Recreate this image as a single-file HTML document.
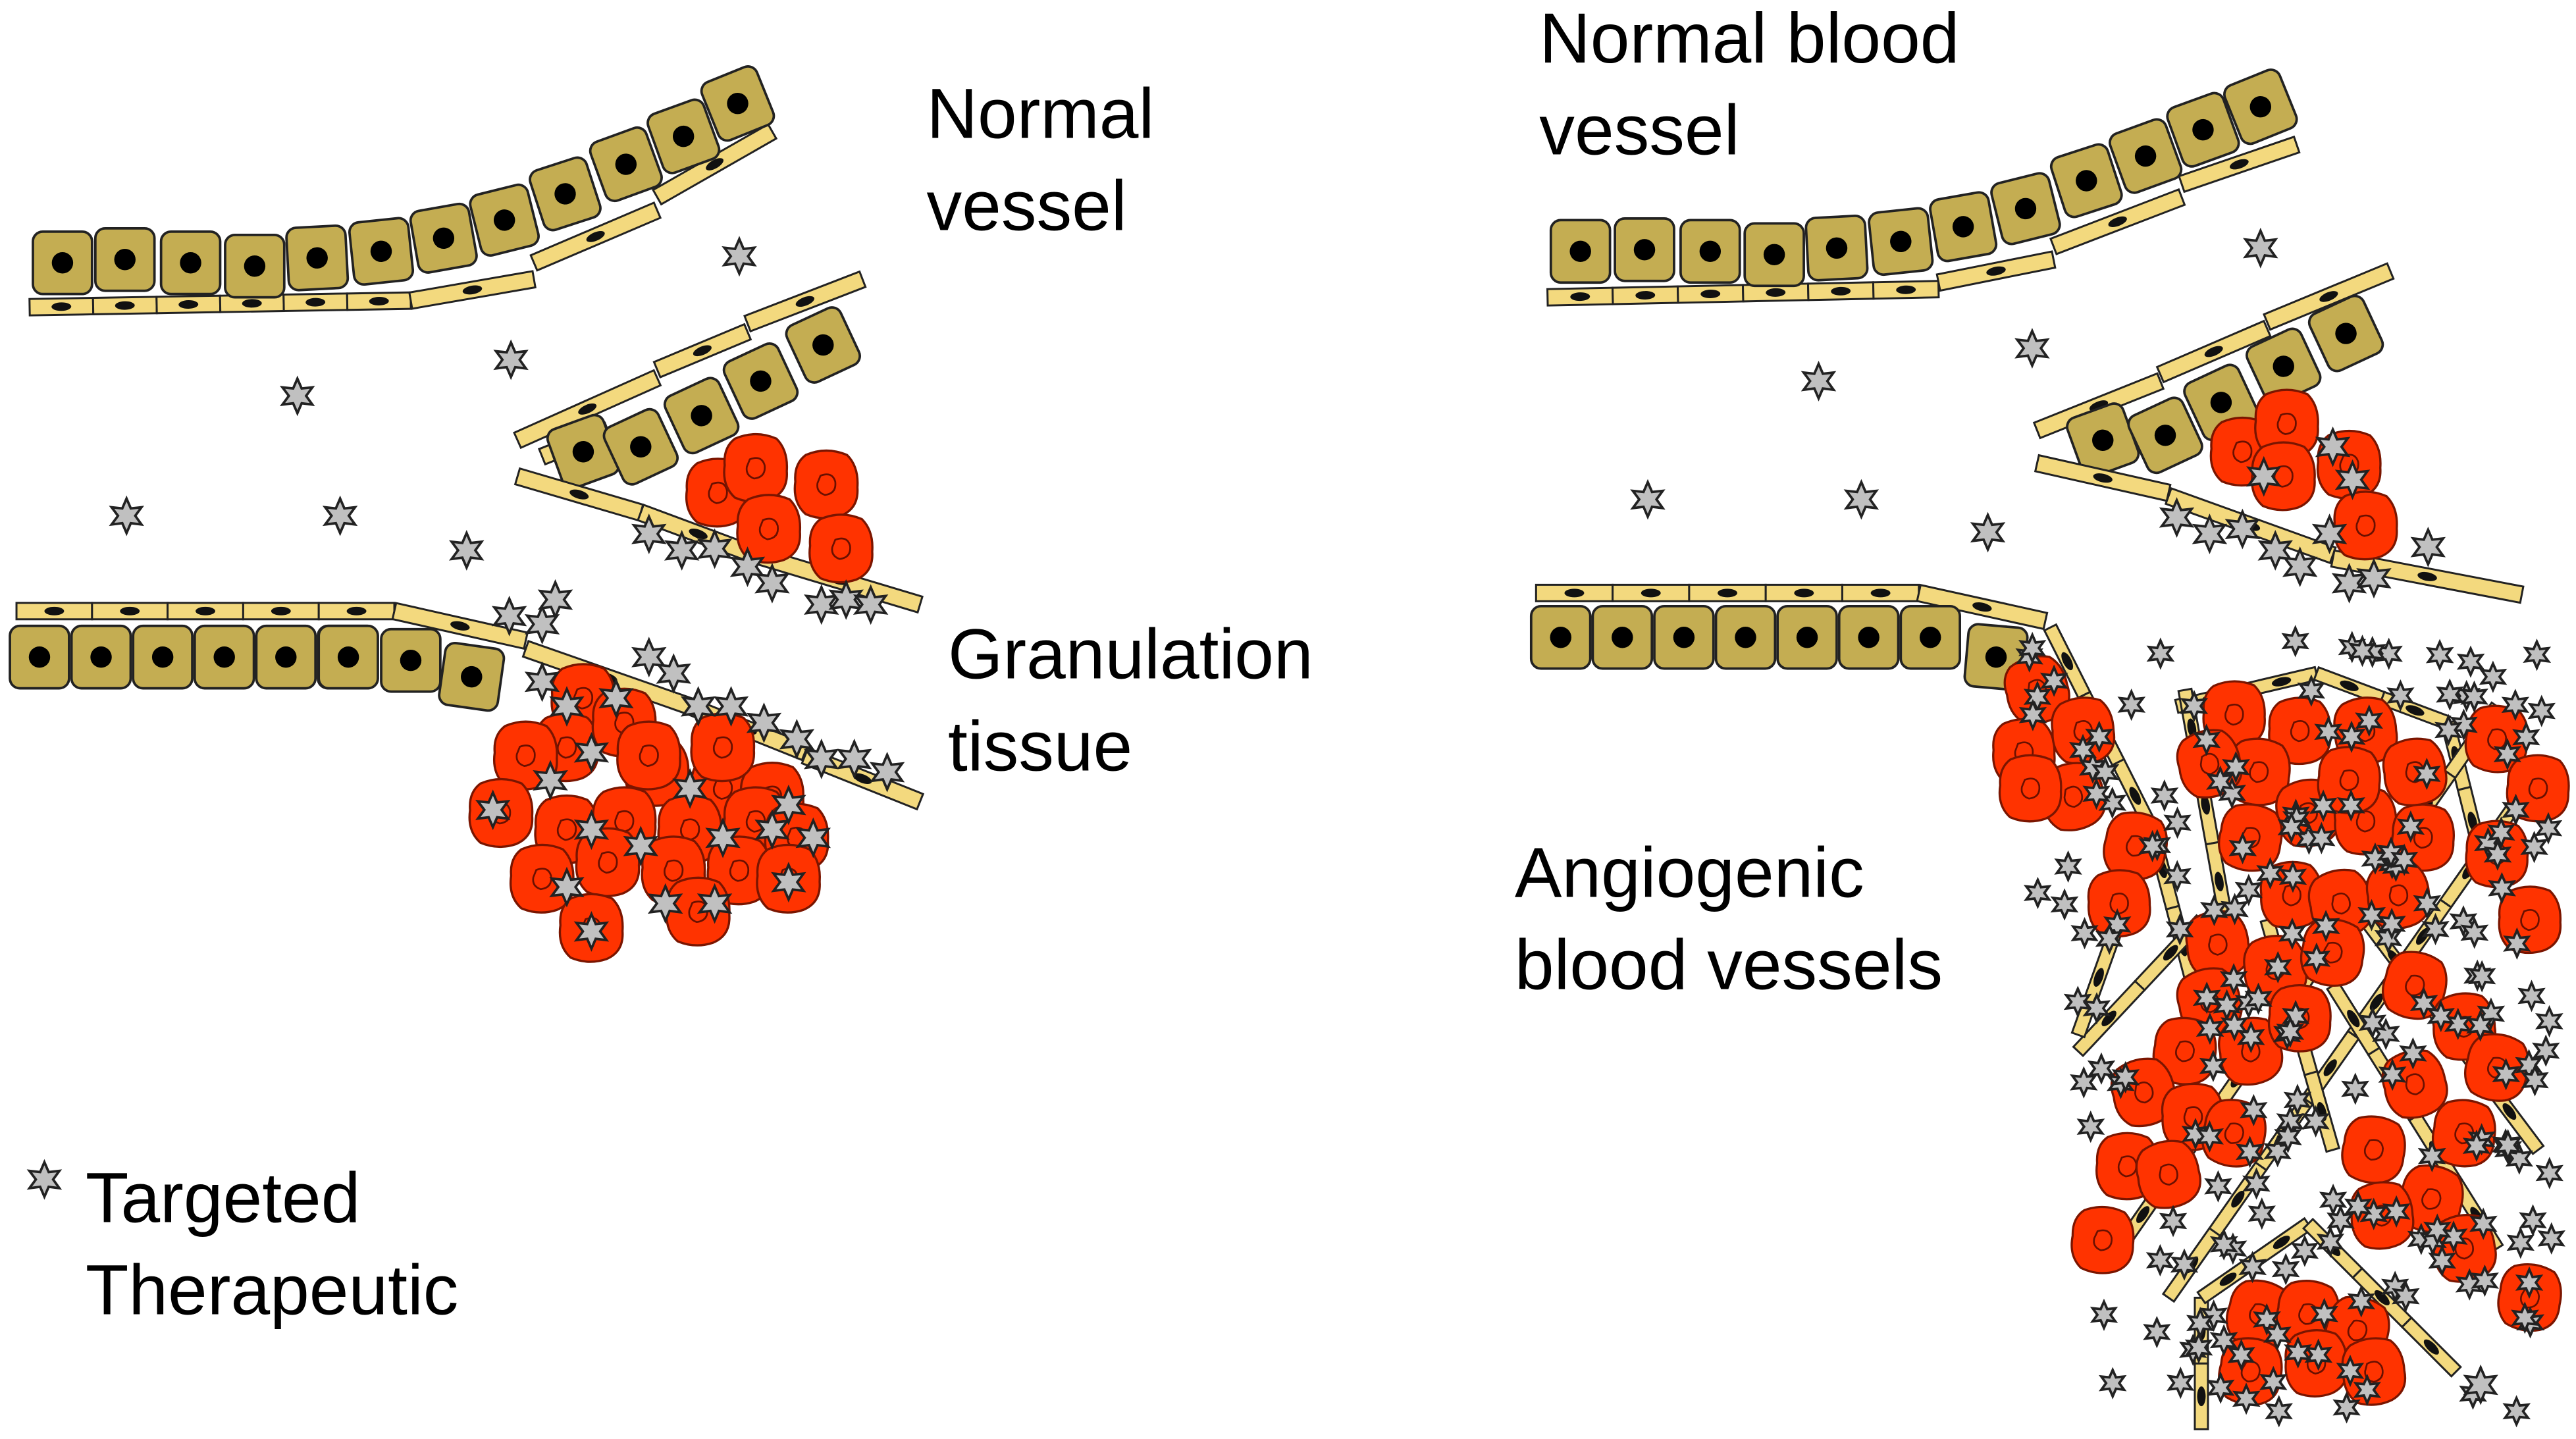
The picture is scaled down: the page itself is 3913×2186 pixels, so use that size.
<!DOCTYPE html>
<html><head><meta charset="utf-8">
<style>
html,body{margin:0;padding:0;background:#fff;}
svg{display:block;}
text{font-family:"Liberation Sans",sans-serif;font-size:43px;fill:#000;}
</style></head>
<body>
<svg id="s" width="3913" height="2186" viewBox="0 0 1568 876" xmlns="http://www.w3.org/2000/svg">
<g id="g"></g>
<text x="564" y="84">Normal</text>
<text x="564" y="140">vessel</text>
<text x="577" y="413">Granulation</text>
<text x="577" y="469">tissue</text>
<text x="52" y="744">Targeted</text>
<text x="52" y="800">Therapeutic</text>
<text x="937" y="38">Normal blood</text>
<text x="937" y="94">vessel</text>
<text x="922" y="546">Angiogenic</text>
<text x="922" y="602">blood vessels</text>
</svg>
<script>
var g=document.getElementById('g');var h='';
function cell(x,y,r){h+='<g transform="translate('+x+','+y+') rotate('+(r||0)+')"><rect x="-18" y="-19" width="36" height="38" rx="6" fill="#c4ad52" stroke="#222" stroke-width="1.5"/><circle r="6.5" fill="#000"/></g>';}
function bar(x1,y1,x2,y2,w){w=w||10;var dx=x2-x1,dy=y2-y1,L=Math.sqrt(dx*dx+dy*dy),a=Math.atan2(dy,dx)*180/Math.PI;
h+='<g transform="translate('+x1+','+y1+') rotate('+a+')"><rect x="0" y="'+(-w/2)+'" width="'+L+'" height="'+w+'" fill="#f3d97e" stroke="#222" stroke-width="1.2"/><ellipse cx="'+L/2+'" cy="0" rx="6" ry="2.6" fill="#111"/></g>';}
function bars(x1,y1,x2,y2,n,w){for(var i=0;i<n;i++){bar(x1+(x2-x1)*i/n,y1+(y2-y1)*i/n,x1+(x2-x1)*(i+1)/n,y1+(y2-y1)*(i+1)/n,w);}}
function red(x,y,s,r){s=s||0.9;r=r||0;h+='<g transform="translate('+x+','+y+') rotate('+r+') scale('+s+')"><path d="M-14,-20 Q0,-26 14,-20 Q22,-12 21,2 Q22,16 10,21 Q-2,25 -14,20 Q-23,12 -21,-2 Q-22,-14 -14,-20Z" fill="#ff3300" stroke="#7a1500" stroke-width="1.5"/><path d="M-4,-6 Q4,-9 6,-2 Q7,6 -1,7 Q-7,5 -6,-1Z" fill="none" stroke="#6a1000" stroke-width="1.2"/></g>';}
function star(x,y,s){s=s||1.05;var p='';for(var i=0;i<12;i++){var rr=i%2?5:10,a=Math.PI*i/6-Math.PI/2;p+=(x+rr*s*Math.cos(a)).toFixed(1)+','+(y+rr*s*Math.sin(a)).toFixed(1)+' ';}
h+='<polygon points="'+p+'" fill="#c0c0c0" stroke="#222" stroke-width="1.5"/>';}
var seed=7;function rnd(){seed=(seed*16807)%2147483647;return seed/2147483647;}

bars(18,187,250,183,6);bars(250,183,325,170,1);bar(325,160,400,128);bar(400,120,470,80);
[[38,160,0],[76,158,0],[116,160,0],[155,162,0],[193,157,-3],[232,153,-6],[270,145,-10],[307,134,-14],[344,118,-18],[381,100,-20],[416,83,-20],[449,63,-22]].forEach(function(c){cell(c[0],c[1],c[2]);});
bar(315,268,400,230);bar(400,225,455,202);bar(455,197,525,170);
bar(330,278,370,262);
cell(355,275,-20);cell(390,272,-25);cell(427,253,-25);cell(463,232,-25);cell(501,210,-25);
bar(315,290,390,312);bar(390,312,460,338);bar(460,338,560,368);
red(437,300);red(460,285);red(503,295);red(468,322);red(512,334);
[[395,325],[415,335],[435,334],[455,345],[470,355],[500,368],[515,365],[530,368]].forEach(function(p){star(p[0],p[1]);});
bars(10,372,240,372,5);bar(240,372,320,390);bar(320,395,420,430);bar(420,430,490,458);bar(490,460,560,488);
for(var i=0;i<6;i++)cell(24+i*37.5,400,0);cell(212,400,0);cell(250,402,0);cell(287,412,8);
[[355,425],[345,455],[380,440],[320,460],[400,470],[440,480],[470,485],[305,495],[345,505],[380,500],[420,505],[460,500],[485,510],[330,535],[370,525],[410,530],[450,530],[480,535],[360,565],[425,555],[395,460],[440,455]].forEach(function(p){red(p[0],p[1]);});
[[330,380],[338,365],[310,375],[395,400],[410,410],[425,430],[445,430],[465,440],[485,450],[500,462],[520,462],[540,470],[330,415],[345,430],[375,425],[360,458],[300,493],[335,475],[360,505],[390,515],[420,480],[440,510],[470,505],[480,490],[495,510],[405,550],[435,550],[480,537],[360,567],[345,540]].forEach(function(p){star(p[0],p[1]);});
star(450,156);star(311,219);star(181,241);star(77,314);star(207,314);star(284,335);
star(27,718);

bars(942,181,1180,176,6);bar(1180,172,1250,158);bar(1250,150,1328,120);bar(1328,112,1398,88);
[[962,153,0],[1001,152,0],[1041,153,0],[1080,155,0],[1118,151,-3],[1157,147,-6],[1195,138,-10],[1233,127,-14],[1270,110,-18],[1306,95,-20],[1341,79,-20],[1376,65,-22]].forEach(function(c){cell(c[0],c[1],c[2]);});
bar(1240,262,1315,232);bar(1315,228,1380,200);bar(1380,196,1455,165);
cell(1280,268,-20);cell(1318,265,-25);cell(1352,245,-25);cell(1390,223,-25);cell(1428,203,-25);
bar(1240,282,1320,300);bar(1320,302,1420,338);bar(1420,340,1535,362);
red(1365,275);red(1392,258);red(1430,283);red(1390,290);red(1440,320);
[[1325,315],[1345,325],[1365,322],[1385,335],[1400,345],[1430,355],[1445,352],[1420,272],[1432,292],[1378,290],[1418,325]].forEach(function(p){star(p[0],p[1]);});
star(1376,151);star(1237,212);star(1107,232);star(1003,304);star(1133,304);star(1210,324);star(1478,333);
bars(935,361,1168,361,5);bar(1168,361,1245,378);
for(var i=0;i<7;i++)cell(950+i*37.5,388,0);cell(1215,400,5);
bars(1248,382,1310,505,3,8);bars(1310,505,1335,600,2,8);
bars(1325,430,1410,410,2,8);bars(1410,410,1490,440,2,8);bars(1490,440,1510,520,2,8);
bars(1330,420,1355,560,3,8);
bars(1520,430,1290,760,8,8);bars(1545,470,1320,790,8,8);
bars(1340,560,1265,640,2,8);bars(1290,560,1265,630,1,8);
bars(1420,600,1520,760,4,8);bars(1440,560,1545,700,3,8);
bars(1340,870,1340,790,2,8);bars(1340,790,1405,745,2,8);bars(1405,745,1495,835,3,8);
bars(1380,560,1420,700,3,8);
seed=11;
var reds=[[1240,420],[1232,458],[1268,445],[1262,485],[1300,515],[1290,550],[1236,480],[1360,435],[1400,445],[1440,445],[1470,470],[1375,470],[1405,495],[1440,500],[1475,510],[1370,510],[1395,545],[1425,550],[1460,545],[1520,450],[1545,480],[1520,520],[1540,560],[1350,575],[1385,590],[1420,580],[1345,610],[1370,640],[1400,620],[1330,640],[1305,665],[1335,680],[1360,690],[1295,710],[1320,715],[1280,755],[1470,600],[1500,625],[1520,650],[1470,660],[1500,690],[1445,700],[1480,730],[1450,740],[1500,760],[1540,790],[1375,800],[1405,800],[1435,810],[1370,835],[1410,830],[1445,835],[1430,475],[1345,465]];
reds.forEach(function(p){red(p[0],p[1],0.88,rnd()*30-15);});
for(var i=0;i<220;i++){var x=1235+rnd()*320,y=390+rnd()*470;
 var ok=true;if(y>700&&(x<1280))ok=false;if(y>780&&x>1470&&x<1500)ok=false;
 if(y>600&&x<1262)ok=false;if(ok)star(x,y,0.8);}
star(1510,843);
g.innerHTML=h;
</script>
</body></html>
